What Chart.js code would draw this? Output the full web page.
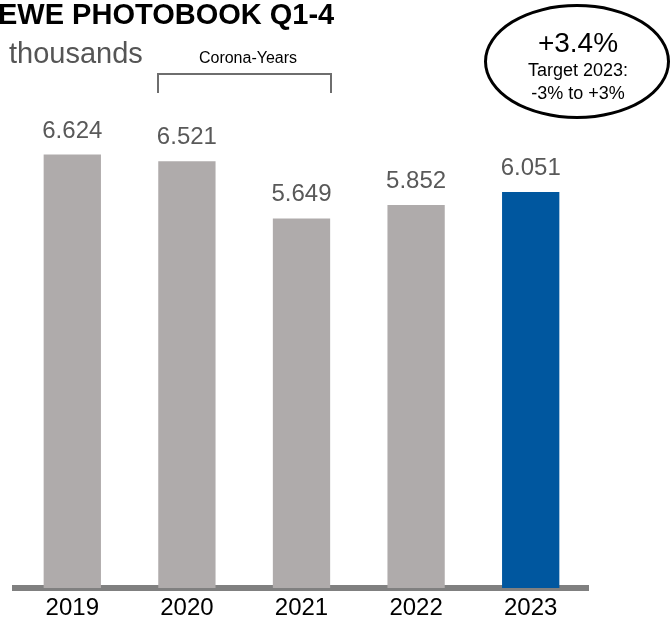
<!DOCTYPE html>
<html>
<head>
<meta charset="utf-8">
<script src="https://cdn.jsdelivr.net/npm/chart.js@4"></script>
<style>
  body { margin: 0; background: #fff; font-family: "Liberation Sans", Arial, sans-serif; }
  #wrap { position: relative; width: 670px; height: 630px; overflow: hidden; }
  #wrap canvas { position: absolute; left: 0; top: 0; }
  .txt { position: absolute; white-space: nowrap; line-height: 1; }
  #title { left: -2px; top: 0px; font-size: 29px; font-weight: bold; color: #000; }
  #unit { left: 9px; top: 39px; font-size: 29px; color: #555; }
  #corona { left: 148px; top: 50px; width: 200px; text-align: center; font-size: 16px; color: #000; }
  #bracket { position: absolute; left: 157px; top: 73px; width: 175px; height: 20px; box-sizing: border-box;
             border: 2px solid #6e6e6e; border-bottom: none; }
  #oval { position: absolute; left: 484px; top: 4px; width: 186px; height: 115px; box-sizing: border-box;
          border: 3.5px solid #000; border-radius: 50%; }
  .ov { left: 478px; width: 200px; text-align: center; color: #000; }
</style>
</head>
<body>
<div id="wrap">
  <canvas id="canvas" width="670" height="630"></canvas>
  <div class="txt" id="title">EWE PHOTOBOOK Q1-4</div>
  <div class="txt" id="unit">thousands</div>
  <div class="txt" id="corona">Corona-Years</div>
  <div id="bracket"></div>
  <div id="oval"></div>
  <div class="txt ov" style="top:29px;font-size:28px">+3.4%</div>
  <div class="txt ov" style="top:61px;font-size:18px">Target 2023:</div>
  <div class="txt ov" style="top:84px;font-size:18px">-3% to +3%</div>
</div>
<script>
var years = ['2019', '2020', '2021', '2022', '2023'];
var volumes = [6624, 6521, 5649, 5852, 6051];
var valueLabels = ['6.624', '6.521', '5.649', '5.852', '6.051'];
var barColors = ['#afabab', '#afabab', '#afabab', '#afabab', '#00579f'];

// value above every bar
var valuePlugin = {
  id: 'values',
  afterDatasetsDraw: function (chart) {
    var ctx = chart.ctx;
    var bars = chart.getDatasetMeta(0).data;
    ctx.save();
    ctx.font = '24px "Liberation Sans", Arial, sans-serif';
    ctx.fillStyle = '#595959';
    ctx.textAlign = 'center';
    ctx.textBaseline = 'alphabetic';
    bars.forEach(function (bar, i) {
      ctx.fillText(valueLabels[i], bar.x, bar.y - 17);
    });
    ctx.restore();
  }
};

const ctx = document.getElementById('canvas').getContext('2d');
const myChart = new Chart(ctx, {
  type: 'bar',
  data: {
    labels: years,
    datasets: [{
      data: volumes,
      backgroundColor: barColors,
      borderWidth: 0,
      barPercentage: 0.5,
      categoryPercentage: 1.0
    }]
  },
  options: {
    responsive: false,
    animation: false,
    events: [],
    layout: { padding: { left: 15, right: 82, top: 130, bottom: 0 } },
    plugins: {
      legend: { display: false },
      tooltip: { enabled: false }
    },
    scales: {
      y: {
        display: false,
        min: 0,
        max: 7000
      },
      x: {
        grid: { display: false, drawTicks: false },
        border: { display: true, color: '#808080', width: 6 },
        ticks: {
          color: '#000',
          padding: 6,
          font: { size: 24, family: '"Liberation Sans", Arial, sans-serif' }
        },
        afterFit: function (scale) { scale.height = 42; }
      }
    }
  },
  plugins: [valuePlugin]
});
</script>
</body>
</html>
